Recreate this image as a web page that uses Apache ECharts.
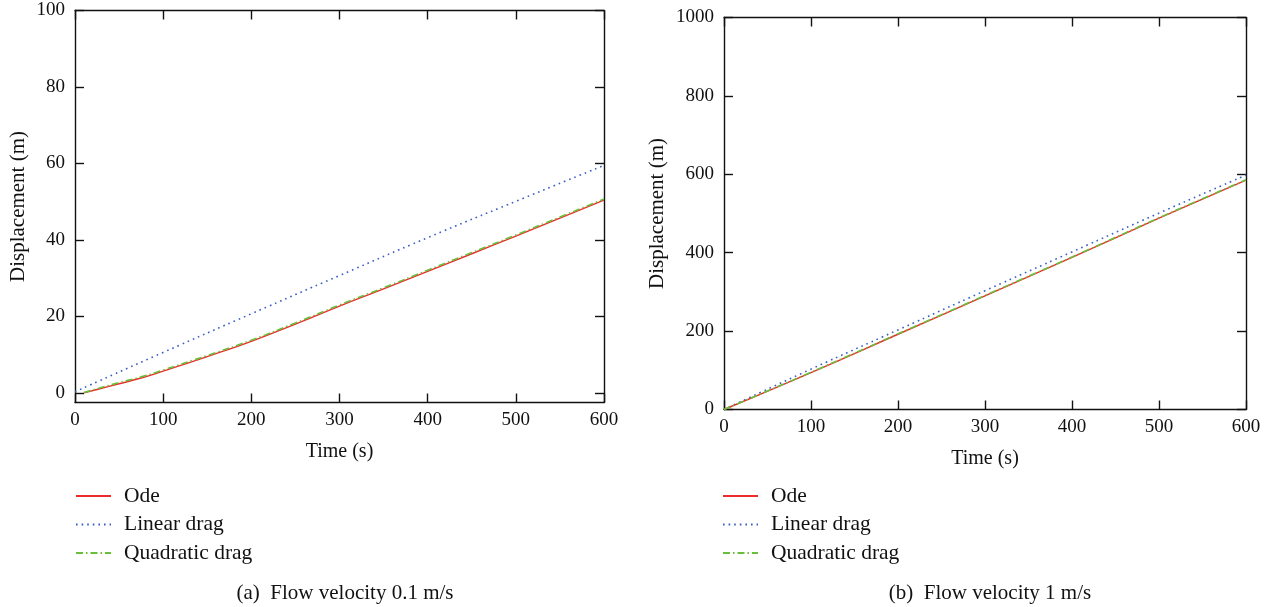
<!DOCTYPE html>
<html>
<head>
<meta charset="utf-8">
<script src="https://cdn.jsdelivr.net/npm/echarts@6/dist/echarts.min.js"></script>
<style>
  html, body { margin: 0; padding: 0; background: #fff; }
  #chart { width: 1271px; height: 607px; }
</style>
</head>
<body>
<div id="chart"></div>
<script>
// (a) flow velocity 0.1 m/s
var timeA = [10, 25, 50, 75, 100, 150, 200, 250, 300, 350, 400, 450, 500, 550, 600]
var odeA = [0, 0.9, 2.4, 3.9, 5.7, 9.5, 13.5, 18.0, 22.7, 27.2, 31.8, 36.4, 41.0, 45.7, 50.4]
var quadA = [0.1, 1.1, 2.7, 4.2, 6.0, 9.8, 13.8, 18.3, 23.0, 27.5, 32.1, 36.7, 41.3, 46.0, 50.7]
var timeLinA = [0, 100, 200, 300, 400, 500, 600]
var linA = [0.3, 10.6, 20.7, 30.7, 40.6, 50.1, 59.5]

// (b) flow velocity 1 m/s
var timeB = [0, 100, 200, 300, 400, 500, 600]
var odeB = [0, 94, 192, 290, 388, 488, 585]
var quadB = [0, 95, 193, 291, 389, 489, 586]
var linB = [0, 103, 203, 303, 402, 501, 598]

var ticksA = [0, 20, 40, 60, 80, 100]
var seriesNames = ['Ode', 'Linear drag', 'Quadratic drag']

var FONT = 'Liberation Serif'
var RED = '#ec2b2b'
var BLUE = '#3b5cc6'
var GREEN = '#6abf3a'

function pairs(xs, ys) {
  return xs.map(function(x, i) { return [x, ys[i]] })
}

function xAxisFor(grid, top) {
  return {
    type: 'value',
    gridIndex: grid,
    position: top ? 'top' : 'bottom',
    min: 0,
    max: 600,
    interval: 100,
    name: top ? '' : 'Time (s)',
    nameLocation: 'middle',
    nameGap: 39,
    nameTextStyle: { fontFamily: FONT, fontSize: 20, color: '#111' },
    axisLine: { onZero: false, lineStyle: { color: '#111', width: 1.4 } },
    axisTick: { inside: true, length: 9, lineStyle: { color: '#111', width: 1.4 } },
    axisLabel: { show: !top, margin: 8, fontFamily: FONT, fontSize: 19, color: '#111' },
    splitLine: { show: false }
  }
}

function yAxisFor(grid, right, small) {
  var ax = {
    type: 'value',
    gridIndex: grid,
    position: right ? 'right' : 'left',
    name: right ? '' : 'Displacement (m)',
    nameLocation: 'middle',
    nameGap: small ? 46 : 56,
    nameTextStyle: { fontFamily: FONT, fontSize: 21, color: '#111' },
    axisLine: { show: true, onZero: false, lineStyle: { color: '#111', width: 1.4 } },
    axisTick: { show: true, inside: true, length: 9, lineStyle: { color: '#111', width: 1.4 } },
    axisLabel: {
      show: !right,
      margin: 10,
      fontFamily: FONT,
      fontSize: 19,
      color: '#111',
      formatter: function(v) { return String(v) }
    },
    splitLine: { show: false }
  }
  if (small) {
    ax.min = -2.5
    ax.max = 100
    ax.axisTick.customValues = ticksA
    ax.axisLabel.customValues = ticksA
  } else {
    ax.min = 0
    ax.max = 1000
    ax.interval = 200
  }
  return ax
}

function lineSeries(name, xi, data, color, type, width) {
  return {
    name: name,
    type: 'line',
    xAxisIndex: xi,
    yAxisIndex: xi,
    data: data,
    symbol: 'none',
    smooth: true,
    silent: true,
    itemStyle: { color: color },
    lineStyle: { color: color, width: width, type: type }
  }
}

function legendFor(left) {
  return {
    orient: 'vertical',
    left: left,
    top: 485,
    padding: 0,
    itemWidth: 35,
    itemHeight: 22,
    itemGap: 6.5,
    data: seriesNames,
    selectedMode: false,
    itemStyle: { opacity: 0 },
    textStyle: { fontFamily: FONT, fontSize: 21.5, color: '#111', padding: [0, 0, 0, 8] }
  }
}

var option = {
  animation: false,
  backgroundColor: '#fff',
  title: [
    {
      text: '(a)  Flow velocity 0.1 m/s',
      left: 340,
      top: 578,
      textAlign: 'center',
      textStyle: { fontFamily: FONT, fontSize: 21, fontWeight: 'normal', color: '#111' }
    },
    {
      text: '(b)  Flow velocity 1 m/s',
      left: 985,
      top: 578,
      textAlign: 'center',
      textStyle: { fontFamily: FONT, fontSize: 21, fontWeight: 'normal', color: '#111' }
    }
  ],
  legend: [legendFor(75), legendFor(722)],
  grid: [
    { left: 75, top: 10.5, width: 529, height: 392 },
    { left: 724, top: 17.5, width: 522, height: 392 }
  ],
  xAxis: [xAxisFor(0, false), xAxisFor(1, false), xAxisFor(0, true), xAxisFor(1, true)],
  yAxis: [yAxisFor(0, false, true), yAxisFor(1, false, false), yAxisFor(0, true, true), yAxisFor(1, true, false)],
  series: [
    lineSeries('Linear drag', 0, pairs(timeLinA, linA), BLUE, [1.6, 4], 1.6),
    lineSeries('Ode', 0, pairs(timeA, odeA), RED, 'solid', 1.4),
    lineSeries('Quadratic drag', 0, pairs(timeA, quadA), GREEN, [7, 3, 1.5, 3], 1.6),
    lineSeries('Linear drag', 1, pairs(timeB, linB), BLUE, [1.6, 4], 1.6),
    lineSeries('Ode', 1, pairs(timeB, odeB), RED, 'solid', 1.4),
    lineSeries('Quadratic drag', 1, pairs(timeB, quadB), GREEN, [7, 3, 1.5, 3], 1.6)
  ]
}

var chart = echarts.init(document.getElementById('chart'))
chart.setOption(option)
</script>
</body>
</html>
